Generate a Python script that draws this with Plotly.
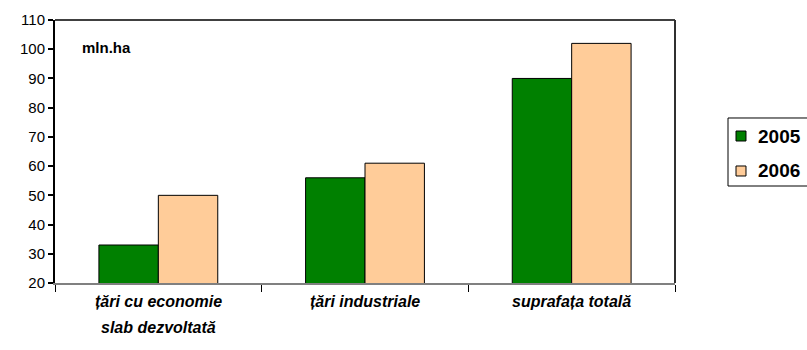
import plotly.graph_objects as go

# Suprafața cultivată (mln. ha)
categories = ["țări cu economie<br>slab dezvoltată", "țări industriale", "suprafața totală"]
series_names = ["2005", "2006"]
values_2005 = [33, 56, 90]
values_2006 = [50, 61, 102]
y_ticks = [20, 30, 40, 50, 60, 70, 80, 90, 100, 110]
colors = ["#008000", "#FFCC99"]

FONT = "Liberation Sans, Arial, sans-serif"

fig = go.Figure()
for name, vals, col in zip(series_names, [values_2005, values_2006], colors):
    fig.add_trace(go.Bar(
        name=name, x=categories, y=vals, showlegend=False,
        marker=dict(color=col, line=dict(color="#000000", width=1)),
    ))

# category labels as annotations so the two-line label can get wider line spacing
annotations = [
    dict(text="<b>mln.ha</b>", xref="paper", yref="paper",
         x=0.04, y=0.897, xanchor="left", yanchor="middle",
         showarrow=False, font=dict(size=15, family=FONT)),
]
for cat in categories:
    for i, line in enumerate(cat.split("<br>")):
        annotations.append(dict(
            text=f"<b><i>{line}</i></b>", x=cat, xref="x", yref="paper",
            y=-0.072 - i * 0.098, xanchor="center", yanchor="middle",
            showarrow=False, font=dict(size=16, family=FONT),
        ))

shapes = [
    # top and right frame of the plot area
    dict(type="line", xref="paper", yref="paper", x0=0, x1=1, y0=1, y1=1,
         line=dict(color="#404040", width=2)),
    dict(type="line", xref="paper", yref="paper", x0=1, x1=1, y0=0, y1=1,
         line=dict(color="#303030", width=2)),
    # legend box, running off the right edge of the page
    dict(type="rect", xref="paper", yref="paper", x0=1.0855, x1=1.3, y0=0.3688, y1=0.6274,
         line=dict(color="#000000", width=1), fillcolor="white"),
]

# legend entries: swatch + label
legend_rows = [0.5589, 0.4259]
for name, col, yc in zip(series_names, colors, legend_rows):
    shapes.append(dict(type="rect", xref="paper", yref="paper",
                       x0=1.0984, x1=1.1145, y0=yc - 0.019, y1=yc + 0.019,
                       line=dict(color="#000000", width=1), fillcolor=col))
    annotations.append(dict(text=f"<b>{name}</b>", xref="paper", yref="paper",
                            x=1.1306, y=yc, xanchor="left", yanchor="middle",
                            showarrow=False, font=dict(size=19, family=FONT)))

fig.update_layout(
    width=807, height=350,
    margin=dict(l=55, r=132, t=20, b=67, autoexpand=False),
    paper_bgcolor="white", plot_bgcolor="white",
    barmode="group", bargap=0.425, bargroupgap=0,
    font=dict(family=FONT, color="#000000"),
    showlegend=False,
    shapes=shapes,
    annotations=annotations,
)

fig.update_xaxes(
    type="category", showline=True, linecolor="#808080", linewidth=2,
    ticks="outside", tickson="boundaries", ticklen=7, tickcolor="#000000", tickwidth=1,
    showticklabels=False,
    showgrid=False, zeroline=False,
)
fig.update_yaxes(
    range=[20, 110], tickvals=y_ticks, showline=True, linecolor="#000000", linewidth=2,
    ticks="outside", ticklen=5, tickcolor="#000000", tickwidth=2,
    tickfont=dict(size=15, family=FONT),
    showgrid=False, zeroline=False,
)

fig.write_html("out.html")
